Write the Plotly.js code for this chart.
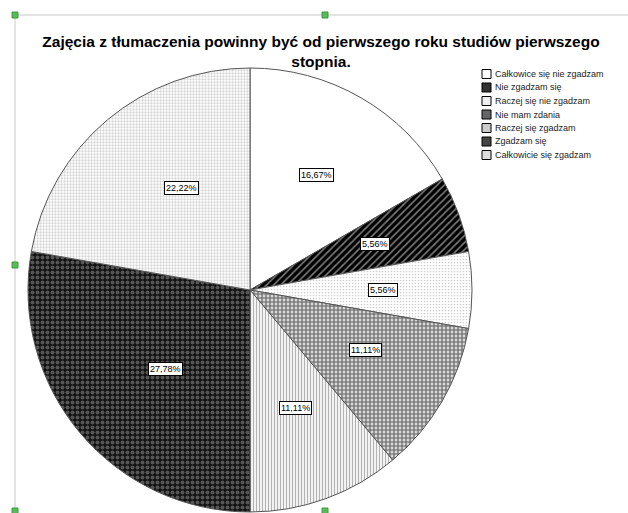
<!DOCTYPE html>
<html>
<head>
<meta charset="utf-8">
<script src="https://cdn.plot.ly/plotly-3.0.1.min.js"></script>
<style>html,body{margin:0;padding:0;background:#fff;}#chart{width:628px;height:513px;}</style>
</head>
<body>
<div id="chart"></div>
<script>
// Data
const labels = ["Całkowice się nie zgadzam", "Nie zgadzam się", "Raczej się nie zgadzam", "Nie mam zdania", "Raczej się zgadzam", "Zgadzam się", "Całkowicie się zgadzam"];
const counts = [3, 1, 1, 2, 2, 5, 4];
const titleText = "Zajęcia z tłumaczenia powinny być od pierwszego roku studiów pierwszego<br>stopnia.";

// Styles
const patShapes = ["", "/", ".", ".", "|", ".", "."];
const patFg = ["#ffffff", "#ffffff", "#a0a0a0", "#000000", "#666666", "#9a9a9a", "#aaaaaa"];
const patBg = ["#ffffff", "#000000", "#ffffff", "#ffffff", "#ffffff", "#111111", "#ffffff"];
const patSize = [6, 5, 3, 4, 3, 5, 3];
const patSolid = [0.3, 0.3, 0.25, 0.75, 0.45, 0.5, 0.45];
const swatchFill = ["#ffffff", "#333333", "#eeeeee", "#666666", "#cccccc", "#444444", "#dddddd"];

const W = 628, H = 513;
const cx = 250, cy = 290, R = 222;

const trace = {
  type: "pie",
  labels: labels,
  values: counts,
  sort: false,
  direction: "clockwise",
  rotation: 0,
  textinfo: "none",
  hoverinfo: "none",
  showlegend: false,
  domain: { x: [(cx - R) / W, (cx + R) / W], y: [(H - cy - R) / H, (H - cy + R) / H] },
  marker: {
    colors: patBg,
    line: { color: "#555555", width: 1 },
    pattern: { shape: patShapes, fgcolor: patFg, bgcolor: patBg, size: patSize, solidity: patSolid, fillmode: "overlay" }
  }
};

const total = counts.reduce((a, b) => a + b, 0);
const annotations = [];
let cum = 0;
counts.forEach((v, i) => {
  const mid = (cum + v / 2) / total * 2 * Math.PI;
  cum += v;
  const f = 0.6;
  const px = cx + R * f * Math.sin(mid);
  const py = cy - R * f * Math.cos(mid);
  annotations.push({
    xref: "paper", yref: "paper", x: px / W, y: (H - py) / H,
    text: (v / total * 100).toFixed(2).replace(".", ",") + "%",
    showarrow: false, bgcolor: "#ffffff", bordercolor: "#000000", borderwidth: 1, borderpad: 1,
    font: { family: "Liberation Sans, Arial, sans-serif", size: 9, color: "#000" }
  });
});

const shapes = [];
// legend
const lgX = 482, lgY0 = 74, lgStep = 13.5;
labels.forEach((lab, i) => {
  const yc = lgY0 + i * lgStep;
  shapes.push({ type: "rect", xref: "paper", yref: "paper",
    x0: lgX / W, x1: (lgX + 9) / W, y0: (H - yc - 4.5) / H, y1: (H - yc + 4.5) / H,
    fillcolor: swatchFill[i], line: { color: "#000", width: 1 } });
  annotations.push({ xref: "paper", yref: "paper", x: (lgX + 11) / W, y: (H - yc) / H,
    xanchor: "left", yanchor: "middle", text: lab, showarrow: false,
    font: { family: "Liberation Sans, Arial, sans-serif", size: 9, color: "#222" } });
});
// editor frame artifacts
shapes.push({ type: "line", xref: "paper", yref: "paper", x0: 15 / W, x1: 1, y0: (H - 15) / H, y1: (H - 15) / H, line: { color: "#c8c8c8", width: 1 } });
shapes.push({ type: "line", xref: "paper", yref: "paper", x0: 15 / W, x1: 15 / W, y0: 0, y1: (H - 15) / H, line: { color: "#c8c8c8", width: 1 } });
[[15, 15], [325, 15], [15, 265], [15, 511], [325, 511]].forEach(p => {
  shapes.push({ type: "rect", xref: "paper", yref: "paper",
    x0: (p[0] - 3) / W, x1: (p[0] + 3) / W, y0: (H - p[1] - 3) / H, y1: (H - p[1] + 3) / H,
    fillcolor: "#5cb85c", line: { color: "#3c9a3c", width: 1 } });
});

const layout = {
  width: W, height: H,
  margin: { l: 0, r: 0, t: 0, b: 0 },
  paper_bgcolor: "#ffffff",
  title: {
    text: titleText, x: 321 / W, xanchor: "center", y: 1 - 47 / H, yanchor: "top",
    font: { family: "Liberation Sans, Arial, sans-serif", size: 15.5, color: "#000", weight: "bold" }
  },
  annotations: annotations,
  shapes: shapes
};

Plotly.newPlot("chart", [trace], layout, { displayModeBar: false, staticPlot: true });
</script>
</body>
</html>
